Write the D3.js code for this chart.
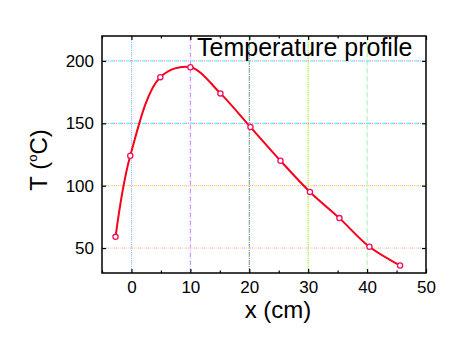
<!DOCTYPE html>
<html>
<head>
<meta charset="utf-8">
<script src="https://cdn.jsdelivr.net/npm/d3@7"></script>
<style>
  body { margin: 0; background: #fff; }
  svg { display: block; font-family: "Liberation Sans", Arial, sans-serif; }
</style>
</head>
<body>
<div id="chart"></div>
<script>
// measured positions (cm) and temperatures (C)
var xPos = [-2.7, -0.2, 4.9, 10, 15.1, 20.2, 25.3, 30.3, 35.3, 40.4, 45.6];
var temps = [59, 124, 187, 195, 174, 147, 120, 95, 74, 51, 36];
var xTicks = [0, 10, 20, 30, 40, 50];
var xMinor = [-5, 5, 15, 25, 35, 45];
var yTicks = [50, 100, 150, 200];
var titleText = 'Temperature profile';

var W = 463, H = 343;
var margin = { top: 36, right: 37, bottom: 70, left: 102 };

// grid colours: [dash, dot] like the dithered original
var vGridCol = [['#8ef', '#f8f'], ['#f6f', '#6ff'], ['#3c5', '#c3c'], ['#ee2', '#6e6'], ['#8ee', '#ee5']];
var hGridCol = [['#eea', '#e8e'], ['#ee6', '#e8e'], ['#4ee', '#e6e'], ['#4ee', '#e6e']];

var svg = d3.select('#chart').append('svg')
    .attr('width', W).attr('height', H)
    .attr('viewBox', [0, 0, W, H]);

var x = d3.scaleLinear().domain([-5, 50]).range([margin.left, W - margin.right]);
var y = d3.scaleLinear().domain([30, 220]).range([H - margin.bottom, margin.top]);

var x0 = x.range()[0], x1 = x.range()[1];
var y0 = y.range()[0], y1 = y.range()[1];

// grid
var grid = svg.append('g');
xTicks.slice(0, 5).forEach(function(t, i) {
    grid.append('line').attr('x1', x(t)).attr('x2', x(t)).attr('y1', y0).attr('y2', y1)
        .attr('stroke', vGridCol[i][0]).attr('stroke-width', 1).attr('stroke-dasharray', '4,4');
    grid.append('line').attr('x1', x(t)).attr('x2', x(t)).attr('y1', y0).attr('y2', y1)
        .attr('stroke', vGridCol[i][1]).attr('stroke-width', 1)
        .attr('stroke-dasharray', '1,1,1,5').attr('stroke-dashoffset', -4);
});
yTicks.forEach(function(t, i) {
    grid.append('line').attr('y1', y(t)).attr('y2', y(t)).attr('x1', x0).attr('x2', x1)
        .attr('stroke', hGridCol[i][0]).attr('stroke-width', 1).attr('stroke-dasharray', '4,4');
    grid.append('line').attr('y1', y(t)).attr('y2', y(t)).attr('x1', x0).attr('x2', x1)
        .attr('stroke', hGridCol[i][1]).attr('stroke-width', 1)
        .attr('stroke-dasharray', '1,1,1,5').attr('stroke-dashoffset', -4);
});

// box
svg.append('rect').attr('x', x0).attr('y', y1).attr('width', x1 - x0).attr('height', y0 - y1)
    .attr('fill', 'none').attr('stroke', '#000').attr('stroke-width', 1.5);

// axes with inward ticks
svg.append('g').attr('transform', 'translate(0,' + y0 + ')')
    .call(d3.axisBottom(x).tickValues(xTicks).tickSizeInner(-4).tickSizeOuter(0).tickPadding(8));
svg.append('g').attr('transform', 'translate(0,' + y0 + ')')
    .call(d3.axisBottom(x).tickValues(xMinor).tickSizeInner(-2.5).tickSizeOuter(0).tickFormat(''));
svg.append('g').attr('transform', 'translate(0,' + y1 + ')')
    .call(d3.axisTop(x).tickValues(xTicks).tickSizeInner(-4).tickSizeOuter(0).tickFormat(''));
svg.append('g').attr('transform', 'translate(0,' + y1 + ')')
    .call(d3.axisTop(x).tickValues(xMinor).tickSizeInner(-2.5).tickSizeOuter(0).tickFormat(''));
svg.append('g').attr('transform', 'translate(' + x0 + ',0)')
    .call(d3.axisLeft(y).tickValues(yTicks).tickSizeInner(-4).tickSizeOuter(0).tickPadding(8));
svg.append('g').attr('transform', 'translate(' + x1 + ',0)')
    .call(d3.axisRight(y).tickValues(yTicks).tickSizeInner(-4).tickSizeOuter(0).tickFormat(''));

svg.selectAll('.domain').remove();
svg.selectAll('.tick line').attr('stroke', '#000').attr('stroke-width', 1.2);
svg.selectAll('.tick text').attr('font-size', 17).attr('fill', '#000')
    .attr('font-family', '"Liberation Sans", Arial, sans-serif');

// curve
var line = d3.line()
    .x(function(d, i) { return x(xPos[i]); })
    .y(function(d) { return y(d); })
    .curve(d3.curveCatmullRom.alpha(0.5));

svg.append('path').datum(temps)
    .attr('d', line)
    .attr('fill', 'none')
    .attr('stroke', '#f80018')
    .attr('stroke-width', 2);

svg.selectAll('circle.pt').data(temps).enter().append('circle')
    .attr('class', 'pt')
    .attr('cx', function(d, i) { return x(xPos[i]); })
    .attr('cy', function(d) { return y(d); })
    .attr('r', 2.6)
    .attr('fill', '#fff')
    .attr('stroke', '#f0105a')
    .attr('stroke-width', 1.3);

// title inside plot
svg.append('text')
    .attr('x', 197).attr('y', 56)
    .attr('font-size', 25)
    .attr('fill', '#000')
    .text(titleText);

// axis labels
svg.append('text')
    .attr('x', (x0 + x1) / 2 + 14).attr('y', 318)
    .attr('text-anchor', 'middle')
    .attr('font-size', 24)
    .text('x (cm)');

var yl = svg.append('text')
    .attr('transform', 'translate(47,' + 160 + ') rotate(-90)')
    .attr('text-anchor', 'middle')
    .attr('font-size', 24);
yl.append('tspan').text('T (');
yl.append('tspan').attr('font-size', 13).attr('dy', -10).text('o');
yl.append('tspan').attr('dy', 10).text('C)');
</script>
</body>
</html>
